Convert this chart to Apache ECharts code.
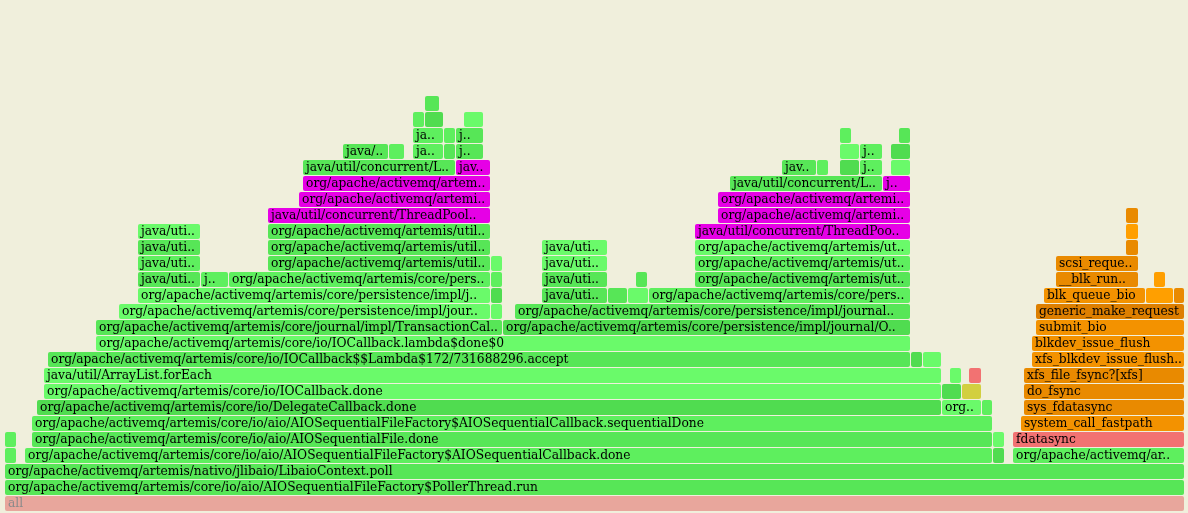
<!DOCTYPE html>
<html><head><meta charset="utf-8">
<script src="https://cdn.jsdelivr.net/npm/echarts@6/dist/echarts.min.js"></script>
<style>html,body{margin:0;padding:0;background:#f0efdc}#c{width:1188px;height:513px}</style>
</head><body><div id="c"></div>
<script>
// Flame graph frames per stack depth: [startSample, samples, label, kind]
const level0 = [[0,1180,'all','root']];
const level1 = [[0,1180,'org/apache/activemq/artemis/core/io/aio/AIOSequentialFileFactory$PollerThread.run','gB']];
const level2 = [[0,1180,'org/apache/activemq/artemis/nativo/jlibaio/LibaioContext.poll','gB']];
const level3 = [[0,12,'','gC'],[20,968,'org/apache/activemq/artemis/core/io/aio/AIOSequentialFileFactory$AIOSequentialCallback.done','gC'],[988,12,'','gA'],[1008,172,'org/apache/activemq/ar..','gC']];
const level4 = [[0,12,'','gC'],[27,961,'org/apache/activemq/artemis/core/io/aio/AIOSequentialFile.done','gB'],[988,12,'','gD'],[1008,172,'fdatasync','red']];
const level5 = [[27,961,'org/apache/activemq/artemis/core/io/aio/AIOSequentialFileFactory$AIOSequentialCallback.sequentialDone','gC'],[1016,164,'system_call_fastpath','oB']];
const level6 = [[32,905,'org/apache/activemq/artemis/core/io/DelegateCallback.done','gA'],[937,40,'org..','gD'],[977,11,'','gC'],[1019,161,'sys_fdatasync','oA']];
const level7 = [[39,898,'org/apache/activemq/artemis/core/io/IOCallback.done','gD'],[937,20,'','gA'],[957,20,'','yel'],[1019,161,'do_fsync','oA']];
const level8 = [[39,898,'java/util/ArrayList.forEach','gD'],[945,12,'','gD'],[964,13,'','red'],[1019,161,'xfs_file_fsync?[xfs]','oA']];
const level9 = [[43,863,'org/apache/activemq/artemis/core/io/IOCallback$$Lambda$172/731688296.accept','gB'],[906,12,'','gA'],[918,19,'','gD'],[1027,153,'xfs_blkdev_issue_flush..','oB']];
const level10 = [[91,815,'org/apache/activemq/artemis/core/io/IOCallback.lambda$done$0','gD'],[1027,153,'blkdev_issue_flush','oB']];
const level11 = [[91,407,'org/apache/activemq/artemis/core/journal/impl/TransactionCal..','gB'],[498,408,'org/apache/activemq/artemis/core/persistence/impl/journal/O..','gA'],[1031,149,'submit_bio','oB']];
const level12 = [[114,372,'org/apache/activemq/artemis/core/persistence/impl/jour..','gD'],[486,12,'','gD'],[510,396,'org/apache/activemq/artemis/core/persistence/impl/journal..','gB'],[1031,149,'generic_make_request','oC']];
const level13 = [[133,353,'org/apache/activemq/artemis/core/persistence/impl/j..','gD'],[486,12,'','gA'],[537,66,'java/uti..','gB'],[603,20,'','gB'],[623,21,'','gD'],[644,262,'org/apache/activemq/artemis/core/pers..','gC'],[1039,102,'blk_queue_bio','oB'],[1141,28,'','oD'],[1169,11,'','oA']];
const level14 = [[133,63,'java/uti..','gB'],[196,28,'j..','gC'],[224,262,'org/apache/activemq/artemis/core/pers..','gC'],[486,12,'','gC'],[537,66,'java/uti..','gB'],[631,12,'','gB'],[690,216,'org/apache/activemq/artemis/ut..','gB'],[1051,83,'__blk_run..','oA'],[1149,12,'','oD']];
const level15 = [[133,63,'java/uti..','gC'],[263,223,'org/apache/activemq/artemis/util..','gB'],[486,12,'','gD'],[537,66,'java/uti..','gD'],[690,216,'org/apache/activemq/artemis/ut..','gC'],[1051,83,'scsi_reque..','oA']];
const level16 = [[133,63,'java/uti..','gB'],[263,223,'org/apache/activemq/artemis/util..','gB'],[537,66,'java/uti..','gD'],[690,216,'org/apache/activemq/artemis/ut..','gD'],[1121,13,'','oA']];
const level17 = [[133,63,'java/uti..','gD'],[263,223,'org/apache/activemq/artemis/util..','gB'],[690,216,'java/util/concurrent/ThreadPoo..','mag'],[1121,13,'','oD']];
const level18 = [[263,223,'java/util/concurrent/ThreadPool..','mag'],[713,193,'org/apache/activemq/artemi..','mag'],[1121,13,'','oA']];
const level19 = [[294,192,'org/apache/activemq/artemi..','mag'],[713,193,'org/apache/activemq/artemi..','mag']];
const level20 = [[298,188,'org/apache/activemq/artem..','mag'],[725,153,'java/util/concurrent/L..','gB'],[878,28,'j..','mag']];
const level21 = [[298,153,'java/util/concurrent/L..','gB'],[451,35,'jav..','mag'],[777,35,'jav..','gB'],[812,12,'','gC'],[835,20,'','gA'],[855,23,'j..','gC'],[886,20,'','gD']];
const level22 = [[338,46,'java/..','gB'],[384,16,'','gC'],[408,31,'ja..','gC'],[439,12,'','gB'],[451,28,'j..','gB'],[835,20,'','gD'],[855,23,'j..','gC'],[886,20,'','gA']];
const level23 = [[408,31,'ja..','gC'],[439,12,'','gC'],[451,28,'j..','gB'],[835,12,'','gC'],[894,12,'','gB']];
const level24 = [[408,12,'','gC'],[420,19,'','gA'],[459,20,'','gD']];
const level25 = [[420,15,'','gB']];
const levels = [level0,level1,level2,level3,level4,level5,level6,level7,level8,level9,level10,level11,level12,level13,level14,level15,level16,level17,level18,level19,level20,level21,level22,level23,level24,level25];
const totalSamples = 1180;

const palette = {
  root:'#e8a69c', gA:'#50dc50', gB:'#57e657', gC:'#5eef5e', gD:'#6afa6a',
  red:'#f27272', yel:'#d2cf40', mag:'#e600e6',
  oA:'#e98a00', oB:'#f39200', oC:'#dd7f00', oD:'#ff9f00'
};

const data = [];
levels.forEach((lv, d) => lv.forEach(f => data.push([f[0], f[0]+f[1], d, f[2], f[3]])));

const chart = echarts.init(document.getElementById('c'), null, {renderer:'canvas'});
chart.setOption({
  animation:false,
  backgroundColor:'#f0efdc',
  grid:{left:5,right:3,top:0,bottom:1,containLabel:false},
  xAxis:{type:'value',min:0,max:totalSamples,show:false},
  yAxis:{type:'value',min:0,max:32,show:false},
  series:[{
    type:'custom',
    data:data,
    encode:{x:[0,1],y:2},
    renderItem:function(params, api){
      const s = api.value(0), e = api.value(1), d = api.value(2);
      const p0 = api.coord([s, d]);
      const p1 = api.coord([e, d+1]);
      const item = data[params.dataIndex];
      const label = item[3], kind = item[4];
      const w = p1[0]-p0[0]-1, h = p0[1]-p1[1]-1;
      return {
        type:'group',
        children:[{
          type:'rect',
          shape:{x:p0[0], y:p1[1], width:w, height:h, r:2},
          style:{fill:palette[kind]}
        },{
          type:'text',
          x:p0[0]+3, y:p1[1]+h/2+0.5,
          style:{text:label, fill: kind==='root' ? '#8a8a8a' : '#000',
                 font:'12.25px "DejaVu Serif"', verticalAlign:'middle', align:'left'}
        }]
      };
    }
  }]
});
</script></body></html>
